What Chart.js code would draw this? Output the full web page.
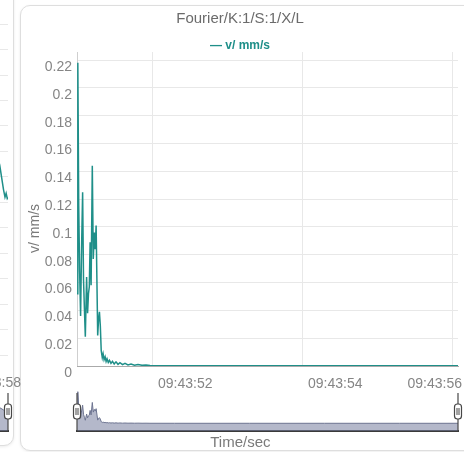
<!DOCTYPE html>
<html><head><meta charset="utf-8">
<script src="https://cdn.jsdelivr.net/npm/chart.js@4"></script>
<style>
html,body{margin:0;padding:0;background:#fff;width:464px;height:452px;overflow:hidden;position:relative}
.card{position:absolute;border:1px solid #dedede;border-radius:10px;background:#fff;box-shadow:0 1px 3px rgba(0,0,0,0.08);box-sizing:border-box}
canvas{position:absolute;display:block}
</style></head><body>
<div class="card" style="left:-300px;top:-20px;width:314px;height:466px"></div>
<div class="card" style="left:20px;top:5px;width:480px;height:446px"></div>
<canvas id="leftMain" width="330" height="452" style="left:-300px;top:0"></canvas>
<canvas id="leftZoom" width="330" height="55" style="left:-300px;top:385px"></canvas>
<canvas id="main" width="464" height="452" style="left:0;top:0"></canvas>
<canvas id="zoom" width="404" height="55" style="left:60px;top:385px"></canvas>
<script>
// ---- data (main panel) ----
const chartTitle = 'Fourier/K:1/S:1/X/L';
const seriesName = 'v/ mm/s';
const yTitle = 'v/ mm/s';
const xTitle = 'Time/sec';
const timeRange = [51.0, 56.08];            // seconds after 09:43:00
const xTicks = [52, 54, 56];
const xLabels = ['09:43:52', '09:43:54', '09:43:56'];
const yTicks = [0, 0.02, 0.04, 0.06, 0.08, 0.1, 0.12, 0.14, 0.16, 0.18, 0.2, 0.22];
const yMax = 0.2258;
const times = [51.000, 51.011, 51.023, 51.035, 51.048, 51.061, 51.075, 51.087, 51.099, 51.111,
  51.128, 51.141, 51.153, 51.164, 51.175, 51.188, 51.204, 51.217, 51.231, 51.243,
  51.255, 51.276, 51.288, 51.299, 51.311, 51.323, 51.337, 51.348, 51.361, 51.375,
  51.388, 51.401, 51.417, 51.433, 51.453, 51.473, 51.496, 51.520, 51.547, 51.573,
  51.607, 51.640, 51.680, 51.720, 51.767, 51.813, 51.867, 51.920, 51.973, 52.3,
  52.8, 53.3, 53.8, 54.3, 54.8, 55.3, 55.8, 56.08];
const values = [0.052, 0.218, 0.115, 0.068, 0.036, 0.085, 0.125, 0.062, 0.041, 0.021,
  0.064, 0.038, 0.052, 0.057, 0.089, 0.058, 0.144, 0.077, 0.096, 0.084,
  0.101, 0.022, 0.034, 0.039, 0.029, 0.011, 0.006, 0.0088, 0.0045, 0.0066,
  0.0032, 0.0052, 0.0026, 0.0041, 0.0019, 0.0034, 0.0014, 0.0030, 0.0012, 0.0024,
  0.0010, 0.0019, 0.0008, 0.0014, 0.0006, 0.0011, 0.0005, 0.0007, 0.0003, 0.0002,
  0.0001, 0.0002, 0.0001, 0.0002, 0.0001, 0.0002, 0.0001, 0.0002];

// ---- data (neighbouring panel, only its right edge is visible) ----
const leftTimeRange = [54.49, 58.6];
const leftXLabels = ['09:43:58'];
const leftYTicks = [0, 0.02, 0.04, 0.06, 0.08, 0.1, 0.12, 0.14, 0.16, 0.18, 0.2, 0.22, 0.24, 0.26];
const leftTimes = [58.30, 58.36, 58.43, 58.49, 58.54, 58.56, 58.575, 58.59, 58.6];
const leftValues = [0.21, 0.19, 0.165, 0.149, 0.130, 0.124, 0.127, 0.123, 0.124];

const FONT = '"Liberation Sans", Arial, Helvetica, sans-serif';
const TEAL = '#1f8f89';
const TICK = '#858585';

function noAutoPad(s) { s.paddingLeft = 0; s.paddingRight = 0; }

const handlePlugin = (sides) => ({
  id: 'handles',
  afterDraw(chart) {
    const {ctx, chartArea: a} = chart;
    ctx.save();
    sides.forEach(side => {
      const x = side === 'left' ? a.left : a.right;
      ctx.strokeStyle = '#474747'; ctx.lineWidth = 1.2;
      ctx.beginPath(); ctx.moveTo(x, a.top + 3); ctx.lineTo(x, a.bottom); ctx.stroke();
      const w = 7, h = 15, y = a.top + 14;
      ctx.beginPath(); ctx.roundRect(x - w / 2, y, w, h, 3);
      ctx.fillStyle = '#fff'; ctx.fill(); ctx.stroke();
      ctx.lineWidth = 1;
      ctx.beginPath();
      ctx.moveTo(x - 1, y + 4); ctx.lineTo(x - 1, y + h - 4);
      ctx.moveTo(x + 1, y + 4); ctx.lineTo(x + 1, y + h - 4);
      ctx.stroke();
    });
    ctx.restore();
  }
});

function makeSlider(id, t, v, range, yRange, pad, sides) {
  return new Chart(document.getElementById(id), {
    type: 'line',
    data: {datasets: [{
      data: t.map((x, i) => ({x, y: v[i]})),
      borderColor: '#6c7390', borderWidth: 1,
      backgroundColor: 'rgba(118,126,158,0.55)', fill: 'start',
      pointRadius: 0, tension: 0
    }]},
    options: {
      responsive: false, animation: false, devicePixelRatio: 1,
      layout: {padding: pad},
      plugins: {legend: {display: false}, title: {display: false}, tooltip: {enabled: false}},
      scales: {
        x: {type: 'linear', min: range[0], max: range[1],
            ticks: {display: false}, grid: {display: false, drawTicks: false},
            border: {display: true, color: '#3a3a3a', width: 2},
            afterFit(s) { s.height = 0; noAutoPad(s); }},
        y: {display: false, min: yRange[0], max: yRange[1]}
      }
    },
    plugins: [handlePlugin(sides)]
  });
}

// neighbouring panel
new Chart(document.getElementById('leftMain'), {
  type: 'line',
  data: {datasets: [{data: leftTimes.map((x, i) => ({x, y: leftValues[i]})),
    borderColor: TEAL, borderWidth: 1.5, pointRadius: 0, tension: 0, fill: false}]},
  options: {
    responsive: false, animation: false, devicePixelRatio: 1,
    layout: {padding: {left: 0, right: 22, top: 33, bottom: 0}},
    plugins: {legend: {display: false}, title: {display: false}, tooltip: {enabled: false}},
    scales: {
      x: {type: 'linear', min: leftTimeRange[0], max: leftTimeRange[1],
          afterBuildTicks(s) { s.ticks = [{value: 58.41}]; },
          afterFit(s) { s.height = 97; noAutoPad(s); },
          ticks: {autoSkip: false, maxRotation: 0, padding: 20, color: TICK,
                  font: {family: FONT, size: 14}, callback: (val, i) => leftXLabels[i]},
          grid: {display: false, drawTicks: false}, border: {display: false}},
      y: {type: 'linear', min: 0, max: 0.253,
          afterBuildTicks(s) { s.ticks = leftYTicks.map(v => ({value: v})); },
          afterFit(s) { s.width = 0; },
          ticks: {display: false}, grid: {color: '#e8e8e8', drawTicks: false}, border: {display: false}}
    }
  }
});
makeSlider('leftZoom', leftTimes, leftValues, leftTimeRange, [-0.05, 0.3],
  {left: 0, right: 22, top: 5, bottom: 9}, ['right']);

// main panel
new Chart(document.getElementById('main'), {
  type: 'line',
  data: {datasets: [{
    label: seriesName,
    data: times.map((x, i) => ({x, y: values[i]})),
    borderColor: TEAL, backgroundColor: TEAL, borderWidth: 1.5,
    pointRadius: 0, tension: 0, fill: false, xAxisID: 'x', yAxisID: 'y'
  }]},
  options: {
    responsive: false, animation: false, devicePixelRatio: 1,
    layout: {padding: {left: 22, right: 6, top: 0, bottom: 0}},
    plugins: {
      tooltip: {enabled: false},
      legend: {display: false},
      title: {display: true, text: chartTitle, color: '#6b6b6b',
              font: {family: FONT, size: 15, weight: 'normal'},
              padding: {top: 9.5, bottom: 10.5}},
      subtitle: {display: true, text: '\u2014 ' + seriesName, color: TEAL,
                 font: {family: FONT, size: 12, weight: 'bold'},
                 padding: {top: 0, bottom: -0.4}}
    },
    scales: {
      y: {type: 'linear', min: 0, max: yMax,
          afterBuildTicks(s) { s.ticks = yTicks.map(v => ({value: v})); },
          afterFit(s) { s.width = 55; },
          ticks: {color: TICK, font: {family: FONT, size: 14}, padding: 5, labelOffset: 7,
                  callback: v => v === 0 ? '0' : String(parseFloat(v.toFixed(2)))},
          grid: {color: '#e8e8e8', drawTicks: false},
          border: {color: '#cfcfcf'},
          title: {display: true, text: yTitle + '          ', color: '#7a7a7a',
                  font: {family: FONT, size: 14}, padding: {top: 4.6, bottom: 0}}},
      x: {type: 'linear', position: 'bottom', min: timeRange[0], max: timeRange[1],
          afterBuildTicks(s) { s.ticks = xTicks.map(v => ({value: v})); },
          afterFit(s) { s.height = 0; noAutoPad(s); },
          ticks: {display: false},
          grid: {color: '#e8e8e8', drawTicks: false},
          border: {color: '#aaaaaa', width: 1}},
      x2: {type: 'linear', position: 'bottom', weight: 1, min: timeRange[0], max: timeRange[1],
           afterBuildTicks(s) {
             s.ticks = xTicks.map((v, i) => ({value: i < xTicks.length - 1 ? v + 0.443 : s.max - 0.31}));
           },
           afterFit(s) { s.height = 86; noAutoPad(s); },
           ticks: {autoSkip: false, maxRotation: 0, padding: 10, color: TICK,
                   font: {family: FONT, size: 14}, callback: (v, i) => xLabels[i]},
           grid: {display: false, drawTicks: false}, border: {display: false},
           title: {display: true, text: xTitle + '             ', color: '#7a7a7a',
                   font: {family: FONT, size: 15}, padding: {top: 0, bottom: 0}}}
    }
  }
});
makeSlider('zoom', times, values, timeRange, [-0.0531, 0.2297],
  {left: 17, right: 6, top: 5, bottom: 9}, ['left', 'right']);
</script>
</body></html>
